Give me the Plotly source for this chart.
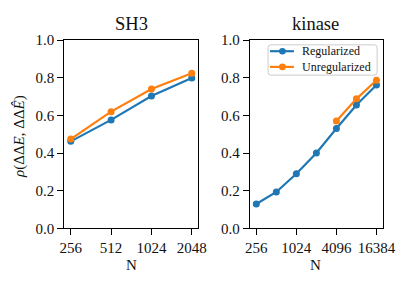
import math
import plotly.graph_objects as go

# Data
sh3_N = [256, 512, 1024, 2048]
sh3_reg = [0.462, 0.576, 0.703, 0.799]
sh3_unreg = [0.474, 0.620, 0.740, 0.824]

kin_N = [256, 512, 1024, 2048, 4096, 8192, 16384]
kin_reg = [0.129, 0.193, 0.290, 0.400, 0.530, 0.655, 0.762]
kin_unreg_N = [4096, 8192, 16384]
kin_unreg = [0.570, 0.688, 0.787]

sh3_ticks = [256, 512, 1024, 2048]
kin_ticks = [256, 1024, 4096, 16384]
y_ticks = [0.0, 0.2, 0.4, 0.6, 0.8, 1.0]
series_names = ["Regularized", "Unregularized"]

BLUE = "#1f77b4"
ORANGE = "#ff7f0e"
FONT = "Liberation Serif"
TXT = "#111"
W, H = 415, 293

fig = go.Figure()

def add(x, y, color, name, xa, ya):
    fig.add_trace(go.Scatter(x=x, y=y, mode="lines+markers", name=name,
                             line=dict(color=color, width=2.2),
                             marker=dict(color=color, size=7),
                             xaxis=xa, yaxis=ya, showlegend=False, hoverinfo="skip"))

add(sh3_N, sh3_reg, BLUE, series_names[0], "x", "y")
add(sh3_N, sh3_unreg, ORANGE, series_names[1], "x", "y")
add(kin_N, kin_reg, BLUE, series_names[0], "x2", "y2")
add(kin_unreg_N, kin_unreg, ORANGE, series_names[1], "x2", "y2")

def px_x(p): return p / W
def px_y(p): return 1 - p / H

axis_common = dict(showline=True, linecolor="black", linewidth=1.3, mirror=True,
                   ticks="outside", ticklen=6, tickwidth=1.3, tickcolor="black",
                   showgrid=False, zeroline=False,
                   tickfont=dict(family=FONT, size=15, color=TXT))

fig.update_layout(
    width=W, height=H, margin=dict(l=0, r=0, t=0, b=0),
    plot_bgcolor="white", paper_bgcolor="white",
    showlegend=False,
    xaxis=dict(domain=[px_x(62), px_x(202)], type="log",
               range=[math.log10(2**7.84), math.log10(2**11.16)],
               tickvals=sh3_ticks, ticktext=[str(t) for t in sh3_ticks],
               anchor="y", **axis_common),
    yaxis=dict(domain=[px_y(233), px_y(34)], range=[0, 1.0],
               tickvals=y_ticks, ticktext=[f"{v:.1f}" for v in y_ticks],
               anchor="x", **axis_common),
    xaxis2=dict(domain=[px_x(256), px_x(395)], type="log",
                range=[math.log10(2**7.68), math.log10(2**14.32)],
                tickvals=kin_ticks, ticktext=[str(t) for t in kin_ticks],
                anchor="y2", **axis_common),
    yaxis2=dict(domain=[px_y(233), px_y(34)], range=[0, 1.0],
                tickvals=y_ticks, ticktext=[f"{v:.1f}" for v in y_ticks],
                anchor="x2", **axis_common),
    font=dict(family=FONT, color=TXT),
)

# Titles and axis labels
for text, x, y, size in [("SH3", 132, 17, 18.5), ("kinase", 325, 17, 18.5),
                         ("N", 132, 272, 15), ("N", 325, 272, 15)]:
    fig.add_annotation(xref="paper", yref="paper", x=px_x(x), y=px_y(y), text=text,
                       showarrow=False, xanchor="center", yanchor="middle",
                       font=dict(family=FONT, size=size, color=TXT))
fig.add_annotation(xref="paper", yref="paper", x=px_x(15), y=px_y(136),
                   text="<i>ρ</i>(ΔΔ<i>E</i>, ΔΔ<i>Ê</i>)", textangle=-90,
                   showarrow=False, xanchor="center", yanchor="middle",
                   font=dict(family=FONT, size=15, color=TXT))

# Legend (drawn manually to match compact matplotlib legend)
x0, x1, y0, y1, r = 275, 389, 39, 71, 3
path = (f"M {px_x(x0+r)},{px_y(y0)} L {px_x(x1-r)},{px_y(y0)} "
        f"Q {px_x(x1)},{px_y(y0)} {px_x(x1)},{px_y(y0+r)} "
        f"L {px_x(x1)},{px_y(y1-r)} Q {px_x(x1)},{px_y(y1)} {px_x(x1-r)},{px_y(y1)} "
        f"L {px_x(x0+r)},{px_y(y1)} Q {px_x(x0)},{px_y(y1)} {px_x(x0)},{px_y(y1-r)} "
        f"L {px_x(x0)},{px_y(y0+r)} Q {px_x(x0)},{px_y(y0)} {px_x(x0+r)},{px_y(y0)} Z")
fig.add_shape(type="path", path=path, xref="paper", yref="paper",
              fillcolor="rgba(255,255,255,0.8)", line=dict(color="#cccccc", width=1))
for name, color, yy in [(series_names[0], BLUE, 45.7), (series_names[1], ORANGE, 62.3)]:
    fig.add_shape(type="line", xref="paper", yref="paper",
                  x0=px_x(277), x1=px_x(302), y0=px_y(yy), y1=px_y(yy),
                  line=dict(color=color, width=2.2))
    fig.add_shape(type="circle", xref="paper", yref="paper",
                  x0=px_x(290 - 3.5), x1=px_x(290 + 3.5),
                  y0=px_y(yy - 3.5), y1=px_y(yy + 3.5),
                  fillcolor=color, line=dict(width=0))
    fig.add_annotation(xref="paper", yref="paper", x=px_x(308), y=px_y(yy), text=name,
                       showarrow=False, xanchor="left", yanchor="middle",
                       font=dict(family=FONT, size=12, color=TXT))

fig.write_html("out.html", config={"displayModeBar": False},
               post_script="document.body.style.margin='0';document.body.style.padding='0';")
